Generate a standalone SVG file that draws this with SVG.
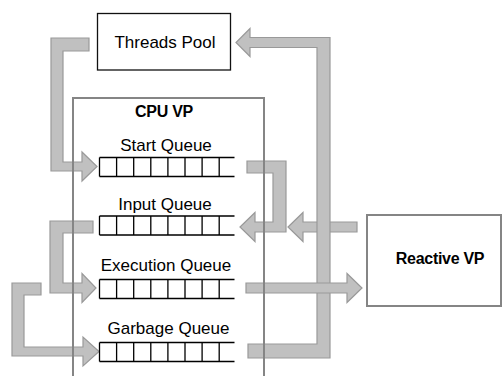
<svg xmlns="http://www.w3.org/2000/svg" xmlns:xlink="http://www.w3.org/1999/xlink" width="503" height="376" viewBox="0 0 503 376">
<style>
.arrow{fill:#c0c0c0;stroke:#999999;stroke-width:1.2;stroke-linejoin:miter}
.txt{font-family:"Liberation Sans",Arial,sans-serif;font-size:17px;fill:#000;text-anchor:middle}
.bold{font-weight:bold;font-size:16px;letter-spacing:-0.3px}
.vp{fill:none;stroke:#858585;stroke-width:2}
.queue{fill:none;stroke:#000;stroke-width:1.3}
</style>
<defs>
<path id="q" class="queue" d="M0,0H135M0,19H135M0,0V19M17.1,0V19M34.2,0V19M51.3,0V19M68.4,0V19M85.5,0V19M102.6,0V19M119.7,0V19"/>
</defs>
<rect width="503" height="376" fill="#fff"/>
<g id="threads-pool">
<rect x="97.5" y="13.5" width="133" height="56.5" fill="#fff" stroke="#111" stroke-width="1.3"/>
<text class="txt" x="165" y="47.5">Threads Pool</text>
</g>
<g id="reactive-vp">
<rect class="vp" x="367" y="215" width="134" height="91" fill="#fff"/>
<text class="txt bold" x="440" y="264">Reactive VP</text>
</g>
<g id="connectors">
<polygon class="arrow" points="89,38 51,38 51,171 82,171 82,181 97,166.5 82,152 82,162 63,162 63,51 89,51"/>
<polygon class="arrow" points="247,161 286,161 286,232 255,232 255,241.5 240,227 255,212.5 255,222 273,222 273,173 247,173"/>
<polygon class="arrow" points="357,222 303,222 303,212.5 288,227 303,241.5 303,232 357,232"/>
<polygon class="arrow" points="93,221 50,221 50,293 82,293 82,302.5 96,288 82,273.5 82,283 63,283 63,233 93,233"/>
<polygon class="arrow" points="41,283 12,283 12,356 83,356 83,366 99,351.5 83,337 83,347 24,347 24,295 41,295"/>
<polygon class="arrow" points="248,344 317,344 317,47.5 250,47.5 250,56.5 236,42.5 250,28.5 250,37.5 330,37.5 330,358 248,358"/>
<polygon class="arrow" points="246,283 347,283 347,273.5 362,288 347,302.5 347,293 246,293"/>
</g>
<g id="cpu-vp">
<rect class="vp" x="73" y="98" width="191" height="300"/>
<text class="txt bold" x="164" y="117">CPU VP</text>
</g>
<g id="start-queue">
<text class="txt" x="166" y="151">Start Queue</text>
<use xlink:href="#q" href="#q" x="99.5" y="157.5"/>
</g>
<g id="input-queue">
<text class="txt" x="165" y="210">Input Queue</text>
<use xlink:href="#q" href="#q" x="99.5" y="216"/>
</g>
<g id="execution-queue">
<text class="txt" x="166" y="271">Execution Queue</text>
<use xlink:href="#q" href="#q" x="99.5" y="279.5"/>
</g>
<g id="garbage-queue">
<text class="txt" x="168.5" y="333.5">Garbage Queue</text>
<use xlink:href="#q" href="#q" x="99.5" y="342.5"/>
</g>
</svg>
